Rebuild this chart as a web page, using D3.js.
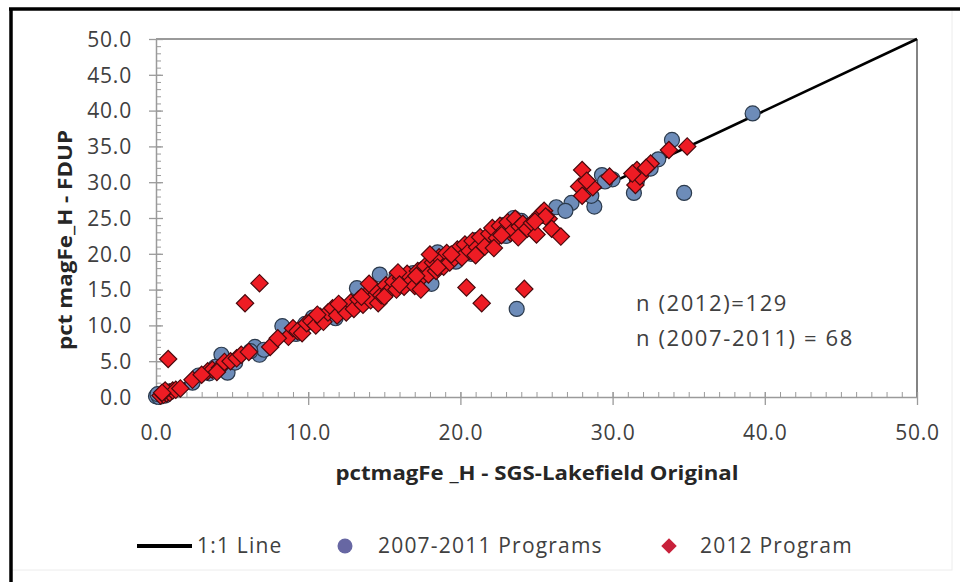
<!DOCTYPE html>
<html>
<head>
<meta charset="utf-8">
<script src="https://cdn.jsdelivr.net/npm/d3@7"></script>
<style>
  html, body { margin: 0; padding: 0; background: #ffffff; }
  svg { display: block; font-family: "Open Sans", "Lato", sans-serif; }
</style>
</head>
<body>
<svg id="chart" width="960" height="582"></svg>
<script>
// Reference line (SGS-Lakefield original vs FDUP duplicate)
const oneToOne = [[0, 0], [50, 50]];

// 2007-2011 programs: [original, duplicate]
const programs2007 = [
  [0.0, 0.1], [0.2, 0.0], [0.4, 0.3], [0.1, 0.4], [0.6, 0.2], [0.9, 0.8],
  [2.8, 3.0], [2.4, 2.0], [3.5, 3.3], [4.3, 5.9], [4.7, 3.4], [5.2, 4.8], [6.5, 7.0],
  [6.8, 5.9], [7.1, 6.6], [8.3, 9.9], [9.2, 8.8], [3.9, 4.2], [6.2, 6.4], [9.8, 10.2],
  [10.3, 11.1], [10.9, 10.7], [11.5, 11.3], [12.3, 12.1], [12.9, 12.7], [13.2, 15.2],
  [13.8, 13.6], [14.2, 14.8], [14.7, 17.1], [15.4, 15.3], [16.2, 16.0], [16.9, 17.3],
  [17.6, 17.9], [18.1, 15.8], [18.5, 20.2], [19.0, 19.3], [19.7, 18.9], [11.8, 11.0],
  [14.5, 13.8], [15.8, 16.9],
  [20.2, 20.8], [21.0, 21.9], [21.7, 21.5], [22.3, 23.0], [23.0, 22.5], [23.5, 25.0],
  [24.0, 24.6], [24.6, 24.0], [25.4, 25.3], [23.7, 12.3], [20.7, 20.0], [22.8, 24.0],
  [28.8, 26.6], [29.3, 31.0], [31.4, 28.5], [32.5, 31.9], [33.9, 35.9], [34.7, 28.5],
  [39.2, 39.6], [28.1, 29.0], [30.0, 30.4], [31.6, 30.2], [27.3, 27.1], [26.3, 26.5],
  [33.0, 33.2], [28.6, 28.1], [26.9, 26.0], [29.5, 30.1]
];

// 2012 program: [original, duplicate]
const program2012 = [
  [0.3, 0.2], [0.5, 0.3], [0.7, 0.5], [0.9, 0.6], [1.1, 0.9], [0.6, 0.9], [1.3, 1.0],
  [0.4, 0.6], [1.6, 1.2], [0.8, 5.3],
  [2.4, 2.4], [3.4, 3.6], [3.7, 3.8], [4.2, 4.1], [4.5, 4.9], [4.9, 5.0], [5.3, 5.4],
  [5.6, 5.9], [6.1, 6.3], [7.5, 7.0], [5.85, 13.1], [6.8, 15.9], [8.7, 8.4], [9.0, 9.6],
  [9.3, 9.2], [9.6, 8.9], [9.9, 10.3], [3.0, 3.1], [4.0, 3.5],
  [10.2, 10.6], [10.5, 10.0], [10.8, 11.2], [11.0, 10.5], [11.3, 11.8], [11.6, 12.4],
  [11.9, 11.4], [12.2, 12.6], [12.5, 11.8], [12.8, 13.2], [13.0, 12.3], [13.3, 13.6],
  [13.6, 12.9], [13.9, 14.4], [14.1, 13.5], [14.4, 15.0], [14.6, 13.1], [14.8, 14.2],
  [15.1, 15.6], [15.3, 14.8], [15.6, 16.1], [15.8, 15.0], [16.1, 16.6], [16.3, 15.4],
  [16.5, 17.2], [16.8, 16.2], [17.0, 15.5], [17.2, 17.6], [17.5, 16.8], [17.7, 18.3],
  [17.9, 17.1], [18.2, 18.8], [18.4, 17.6], [18.6, 19.5], [18.9, 18.2], [19.1, 20.1],
  [19.3, 18.8], [19.6, 19.4], [19.8, 20.6], [17.4, 15.0], [14.0, 15.8], [12.0, 13.0],
  [15.9, 17.4], [18.0, 19.9],
  [20.1, 19.5], [20.3, 21.3], [20.6, 20.4], [20.8, 21.8], [21.1, 20.9], [21.3, 22.3],
  [21.6, 21.0], [21.9, 22.8], [22.1, 23.6], [22.4, 22.2], [22.6, 23.9], [22.9, 23.3],
  [23.1, 24.4], [23.3, 22.9], [23.6, 24.9], [23.9, 23.8], [24.1, 24.2], [24.4, 23.5],
  [24.7, 24.3], [25.0, 22.7], [25.3, 25.6], [25.5, 26.0], [25.8, 24.9], [26.0, 23.5],
  [25.6, 25.2], [26.6, 22.4], [20.4, 15.3], [21.4, 13.1], [24.2, 15.1], [22.2, 20.8],
  [23.8, 22.3], [21.0, 19.8],
  [27.8, 29.4], [28.0, 31.7], [28.0, 28.1], [28.7, 29.3], [29.8, 30.8], [31.5, 29.6],
  [31.6, 31.7], [32.5, 32.6], [33.7, 34.5], [34.9, 35.0], [28.3, 30.2], [31.8, 30.8],
  [32.2, 32.0], [31.3, 31.2],
  [10.6, 11.5], [13.5, 14.0], [15.0, 14.0], [16.0, 15.7], [17.1, 16.9], [18.5, 18.1],
  [19.4, 19.9], [22.7, 22.6], [24.9, 24.5], [8.0, 8.2]
];

const xTickValues = [0, 10, 20, 30, 40, 50];
const xTickLabels = ["0.0", "10.0", "20.0", "30.0", "40.0", "50.0"];
const yTickValues = [0, 5, 10, 15, 20, 25, 30, 35, 40, 45, 50];
const yTickLabels = ["0.0", "5.0", "10.0", "15.0", "20.0", "25.0", "30.0", "35.0", "40.0", "45.0", "50.0"];
const minorTickValues = d3.range(0, 51, 1);

const seriesNames = ["1:1 Line", "2007-2011 Programs", "2012 Program"];
const sampleCounts = ["n (2012)=129", "n (2007-2011) = 68"];
const xTitle = "pctmagFe _H - SGS-Lakefield Original";
const yTitle = "pct magFe_H - FDUP";

const svg = d3.select("#chart");
const plot = { left: 156, right: 917, top: 39, bottom: 397 };

const x = d3.scaleLinear().domain([0, 50]).range([plot.left, plot.right]);
const y = d3.scaleLinear().domain([0, 50]).range([plot.bottom, plot.top]);

const axisGray = "#9a9a9a";
const labelGray = "#404040";

// outer chart frame
svg.append("rect").attr("x", 11).attr("y", 9).attr("width", 941).attr("height", 561)
  .attr("fill", "#ffffff").attr("stroke", "#ececec").attr("stroke-width", 1);
svg.append("line").attr("x1", 9).attr("x2", 960).attr("y1", 9).attr("y2", 9)
  .attr("stroke", "#000").attr("stroke-width", 3.5);
svg.append("line").attr("x1", 11).attr("x2", 11).attr("y1", 8).attr("y2", 582)
  .attr("stroke", "#000").attr("stroke-width", 3.5);

// plot area border (top and right)
svg.append("line").attr("x1", plot.left).attr("x2", plot.right).attr("y1", plot.top).attr("y2", plot.top)
  .attr("stroke", axisGray).attr("stroke-width", 2);
svg.append("line").attr("x1", plot.right).attr("x2", plot.right).attr("y1", plot.top).attr("y2", plot.bottom)
  .attr("stroke", "#5a5a5a").attr("stroke-width", 1.5);

// minor ticks
const xMinor = svg.append("g").attr("transform", `translate(0,${plot.bottom})`)
  .call(d3.axisBottom(x).tickValues(minorTickValues).tickSize(-5).tickFormat(""));
xMinor.select(".domain").remove();
xMinor.selectAll("line").attr("stroke", axisGray);

const yMinor = svg.append("g").attr("transform", `translate(${plot.left},0)`)
  .call(d3.axisLeft(y).tickValues(minorTickValues).tickSize(-5).tickFormat(""));
yMinor.select(".domain").remove();
yMinor.selectAll("line").attr("stroke", axisGray);

// major axes
const xAxis = svg.append("g").attr("transform", `translate(0,${plot.bottom})`)
  .call(d3.axisBottom(x).tickValues(xTickValues).tickSizeInner(8).tickSizeOuter(0)
    .tickFormat((d, i) => xTickLabels[i]));
xAxis.select(".domain").attr("stroke", axisGray).attr("stroke-width", 1.5);
xAxis.selectAll("line").attr("stroke", axisGray).attr("y1", -5).attr("stroke-width", 1.3);
xAxis.selectAll("text").attr("y", 36).attr("dy", "0.35em")
  .attr("fill", labelGray).attr("font-size", 21).attr("letter-spacing", 0.8)
  .attr("font-family", "Open Sans");

const yAxis = svg.append("g").attr("transform", `translate(${plot.left},0)`)
  .call(d3.axisLeft(y).tickValues(yTickValues).tickSizeInner(7).tickSizeOuter(0)
    .tickFormat((d, i) => yTickLabels[i]));
yAxis.select(".domain").attr("stroke", axisGray).attr("stroke-width", 1.5);
yAxis.selectAll("line").attr("stroke", axisGray).attr("x1", 7).attr("stroke-width", 1.3);
yAxis.selectAll("text").attr("x", -24).attr("dy", "0.35em")
  .attr("fill", labelGray).attr("font-size", 21).attr("letter-spacing", 0.8)
  .attr("font-family", "Open Sans");

// 1:1 line
svg.append("path").datum(oneToOne)
  .attr("d", d3.line().x(d => x(d[0])).y(d => y(d[1])))
  .attr("fill", "none").attr("stroke", "#000").attr("stroke-width", 2.6);

// 2007-2011 programs
svg.append("g").selectAll("circle").data(programs2007).join("circle")
  .attr("cx", d => x(d[0])).attr("cy", d => y(d[1])).attr("r", 7.5)
  .attr("fill", "#6d8cb9").attr("stroke", "#2b3a4c").attr("stroke-width", 1.2);

// 2012 program
const diamond = d3.symbol().type(d3.symbolSquare).size(150);
svg.append("g").selectAll("path").data(program2012).join("path")
  .attr("d", diamond)
  .attr("transform", d => `translate(${x(d[0])},${y(d[1])}) rotate(45)`)
  .attr("fill", "#ee1c24").attr("stroke", "#4a0a0e").attr("stroke-width", 1.2);

// sample counts
svg.append("g").selectAll("text").data(sampleCounts).join("text")
  .attr("x", 636).attr("y", (d, i) => 303 + i * 35).attr("dy", "0.35em")
  .attr("font-size", 22).attr("letter-spacing", 1.6).attr("fill", labelGray).text(d => d);

// axis titles
svg.append("text").attr("x", 537).attr("y", 473).attr("dy", "0.35em")
  .attr("text-anchor", "middle").attr("font-weight", "bold").attr("font-size", 19)
  .attr("textLength", 403).attr("lengthAdjust", "spacingAndGlyphs")
  .attr("fill", "#262626").text(xTitle);
svg.append("text").attr("transform", "translate(65,240) rotate(-90)").attr("dy", "0.35em")
  .attr("text-anchor", "middle").attr("font-weight", "bold").attr("font-size", 19)
  .attr("textLength", 220).attr("lengthAdjust", "spacingAndGlyphs")
  .attr("fill", "#262626").text(yTitle);

// legend
const legendY = 546;
svg.append("line").attr("x1", 137).attr("x2", 192).attr("y1", legendY).attr("y2", legendY)
  .attr("stroke", "#000").attr("stroke-width", 4);
svg.append("circle").attr("cx", 345).attr("cy", legendY).attr("r", 7.5).attr("fill", "#6767a3");
svg.append("path").attr("d", d3.symbol().type(d3.symbolSquare).size(120))
  .attr("transform", `translate(669,${legendY}) rotate(45)`).attr("fill", "#c8213b");
const legendX = [197, 378, 700];
svg.append("g").selectAll("text").data(seriesNames).join("text")
  .attr("x", (d, i) => legendX[i]).attr("y", legendY).attr("dy", "0.35em")
  .attr("font-size", 21).attr("letter-spacing", 1.2).attr("fill", labelGray).text(d => d);
</script>
</body>
</html>
